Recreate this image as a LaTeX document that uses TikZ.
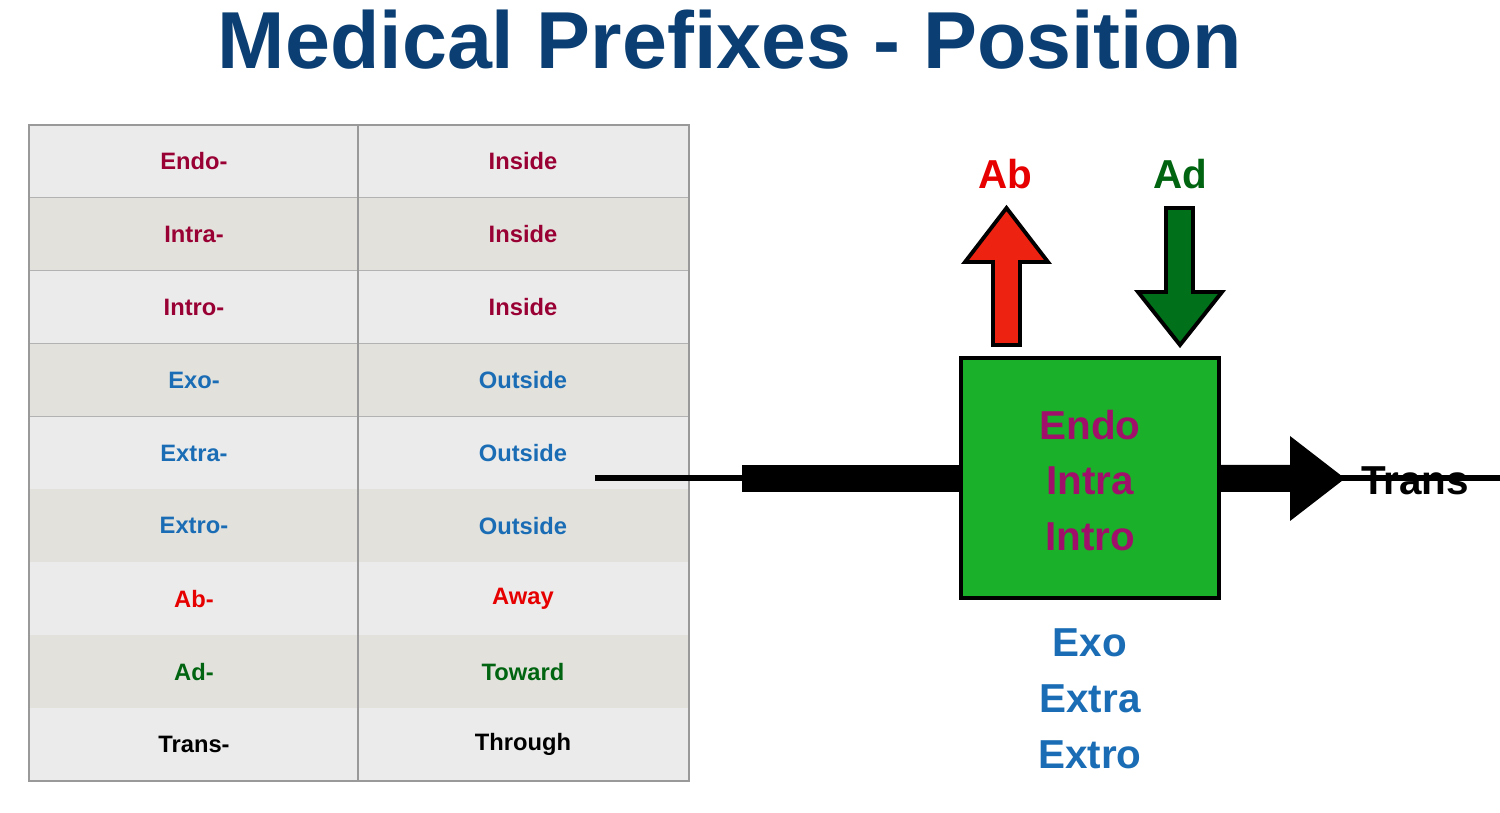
\documentclass[tikz,border=0pt]{standalone}
\usepackage{fontspec}
\setmainfont{Liberation Sans}
\begin{document}
\begin{tikzpicture}[x=0.02cm,y=-0.02cm,
  cell/.style={font=\fontsize{13.5pt}{16pt}\selectfont\bfseries},
  big/.style={font=\fontsize{23pt}{26pt}\selectfont\bfseries},
  arr/.style={draw=black,line width=2.2pt,line join=miter}]
\definecolor{ttl}{HTML}{0B3F73}
\definecolor{mar}{HTML}{990033}
\definecolor{blu}{HTML}{1A6DB5}
\definecolor{rd}{HTML}{E60000}
\definecolor{gr}{HTML}{006410}
\definecolor{rowa}{HTML}{EBEBEB}
\definecolor{rowb}{HTML}{E2E1DC}
\definecolor{bx}{HTML}{1BB02A}
\definecolor{mag}{HTML}{A0106A}
\definecolor{rarr}{HTML}{EE2211}
\definecolor{garr}{HTML}{00701A}
\useasboundingbox (0,0) rectangle (1500,813);
\node[font=\fontsize{46pt}{50pt}\selectfont\bfseries,text=ttl] (title) at (730,40) {Medical Prefixes - Position};
% table
\foreach \i/\a/\b/\c in {0/Endo-/Inside/mar,1/Intra-/Inside/mar,2/Intro-/Inside/mar,3/Exo-/Outside/blu,4/Extra-/Outside/blu,5/Extro-/Outside/blu,6/Ab-/Away/rd,7/Ad-/Toward/gr,8/Trans-/Through/black}{
  \pgfmathsetmacro{\yt}{125+\i*72.9}
  \pgfmathsetmacro{\yb}{125+(\i+1)*72.9}
  \pgfmathsetmacro{\ym}{125+(\i+0.5)*72.9}
  \pgfmathtruncatemacro{\odd}{mod(\i,2)}
  \ifnum\odd=0 \fill[rowa] (29,\yt) rectangle (689,\yb); \else \fill[rowb] (29,\yt) rectangle (689,\yb); \fi
  \draw[gray!60,line width=0.6pt] (29,\yb) -- (689,\yb);
  \node[cell,text=\c] (l\i) at (194,\ym) {\a};
  \node[cell,text=\c] (r\i) at (523,\ym) {\b};
}
\draw[gray!80,line width=0.8pt] (29,125) rectangle (689,781);
\draw[gray!80,line width=0.8pt] (358,125) -- (358,781);
% diagram
\fill[black] (742,465) rectangle (962,492);
\fill[black] (1218,465) -- (1290,465) -- (1290,436) -- (1345,478.5) -- (1290,521) -- (1290,492) -- (1218,492) -- cycle;
\node[draw=black,line width=2.2pt,fill=bx,minimum width=255\pgflinewidth,inner sep=0pt] (box) at (1090,478) {};
\draw[arr,fill=bx] (961,358) rectangle (1219,598);
\draw[arr,fill=rarr] (993,345) -- (993,262) -- (965,262) -- (1006.5,208) -- (1048,262) -- (1020,262) -- (1020,345) -- cycle;
\draw[arr,fill=garr] (1166,208) -- (1166,292) -- (1138,292) -- (1180,345) -- (1222,292) -- (1193,292) -- (1193,208) -- cycle;
\node[big,text=rd] (ab) at (1005,174) {Ab};
\node[big,text=gr] (ad) at (1180,174) {Ad};
\node[big,text=black] (trans) at (1415,481) {Trans};
\node[big,text=mag] (endo) at (1090,425) {Endo};
\node[big,text=mag] (intra) at (1090,481) {Intra};
\node[big,text=mag] (intro) at (1090,537) {Intro};
\node[big,text=blu] (exo) at (1090,643) {Exo};
\node[big,text=blu] (extra) at (1090,699) {Extra};
\node[big,text=blu] (extro) at (1090,755) {Extro};
\end{tikzpicture}
\end{document}
